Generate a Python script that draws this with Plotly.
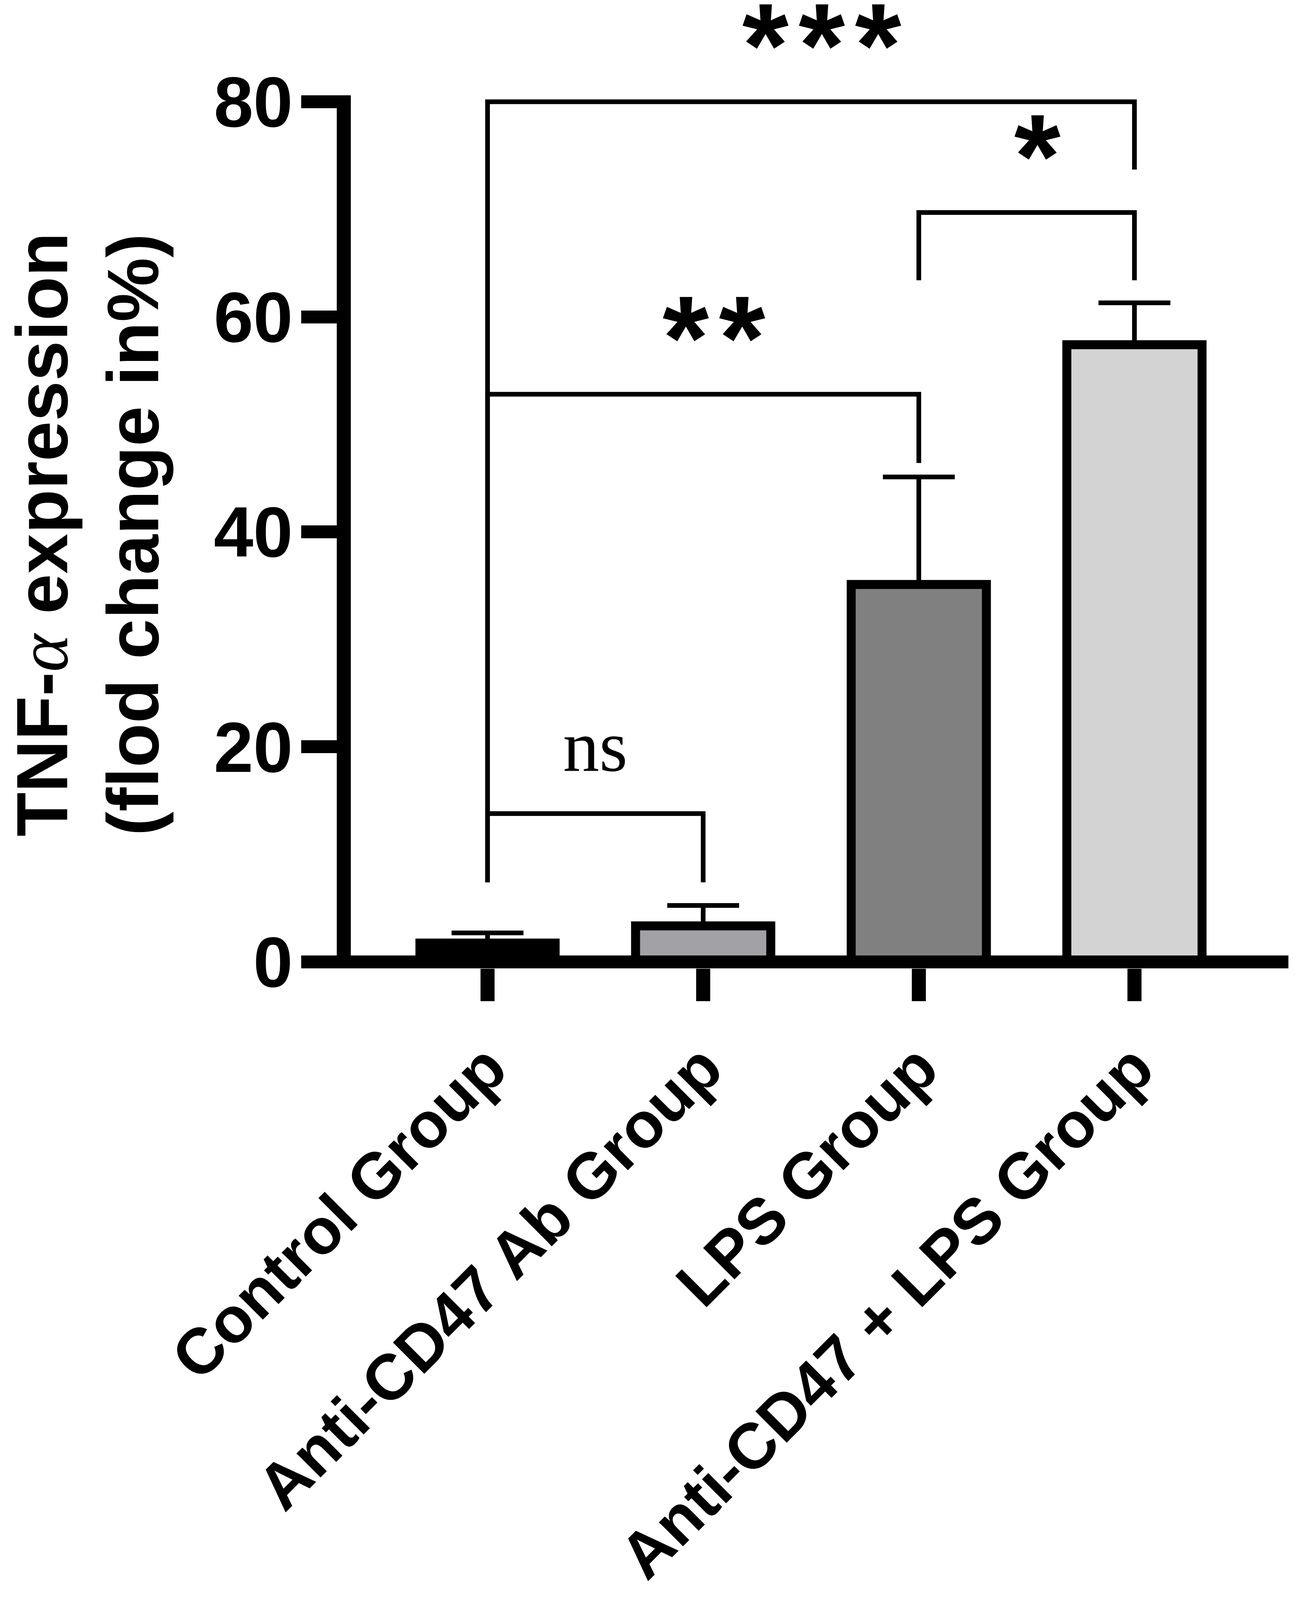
import plotly.graph_objects as go

# bar data
groups = ["Control Group", "Anti-CD47 Ab Group", "LPS Group", "Anti-CD47 + LPS Group"]
means = [1.75, 3.35, 35.1, 57.4]
sd = [0.95, 1.9, 10.0, 3.9]
bar_colors = ["#000000", "#a1a1a6", "#808080", "#d3d3d3"]

# significance brackets: (left group, right group), bar height, leg ends, label
pairs = [(0, 1), (0, 2), (0, 3), (2, 3)]
bracket_h = [13.8, 52.8, 80.0, 69.7]
leg_left = [7.4, 7.4, 7.4, 63.4]
leg_right = [7.4, 46.4, 73.7, 63.4]
sig_labels = ["ns", "**", "***", "*"]

yticks = [0, 20, 40, 60, 80]

FONT = "Liberation Sans, Arial, sans-serif"
SERIF = "Liberation Serif, Times New Roman, serif"

# the visible page is shorter than 4424 px, so the vertical layout is squeezed a bit
W, H = 3320, 4080

fig = go.Figure()

fig.add_trace(go.Bar(
    x=groups, y=means, width=0.627,
    marker=dict(color=bar_colors, line=dict(color="black", width=23)),
    error_y=dict(type="data", symmetric=False, array=sd, arrayminus=[0] * len(sd),
                 color="black", thickness=12, width=92),
    showlegend=False, hoverinfo="skip"))

for (a, b), h, yl, yr in zip(pairs, bracket_h, leg_left, leg_right):
    fig.add_trace(go.Scatter(
        x=[groups[a], groups[a], groups[b], groups[b]], y=[yl, h, h, yr],
        mode="lines", line=dict(color="black", width=12),
        showlegend=False, hoverinfo="skip"))

for (a, b), h, lab in zip(pairs, bracket_h, sig_labels):
    if lab == "ns":
        fnt = dict(family=SERIF, size=186, color="black")
        ysh, xsh = 173, 0
    else:
        fnt = dict(family=FONT, size=305, color="black", weight="bold")
        ysh, xsh = 145, 28
        lab = "\u200a".join(lab)
    fig.add_annotation(x=(a + b) / 2, y=h, xref="x", yref="y", text=lab,
                       showarrow=False, font=fnt, xanchor="center",
                       yanchor="middle", yshift=ysh, xshift=xsh)

# y axis title, two lines
fig.add_annotation(x=-0.329, y=0.497, xref="paper", yref="paper",
                   text="TNF-<span style=\"font-family:'Liberation Serif';font-weight:normal\"><i>α</i></span> expression",
                   textangle=-90, showarrow=False, xanchor="center", yanchor="middle",
                   font=dict(family=FONT, size=185, color="black", weight="bold"))
fig.add_annotation(x=-0.232, y=0.497, xref="paper", yref="paper",
                   text="(flod change in%)",
                   textangle=-90, showarrow=False, xanchor="center", yanchor="middle",
                   font=dict(family=FONT, size=185, color="black", weight="bold"))

# horizontal axis line at y = 0
fig.add_shape(type="line", xref="paper", yref="y", x0=0, x1=1, y0=0, y1=0,
              line=dict(color="black", width=33), layer="above")

fig.update_xaxes(
    type="category", range=[-0.634, 3.714], showline=False, showgrid=False,
    zeroline=False, ticks="outside", ticklen=83, tickwidth=36, tickcolor="black",
    tickangle=-45, ticklabelstandoff=8,
    tickfont=dict(family=FONT, size=165, color="black", weight="bold"))
fig.update_yaxes(
    range=[-0.6, 80.6], tickvals=yticks, showline=True, linewidth=36, linecolor="black",
    showgrid=False, zeroline=False, ticks="outside", ticklen=91, tickwidth=33,
    tickcolor="black", layer="above traces", ticklabelstandoff=-15,
    tickfont=dict(family=FONT, size=182, color="black", weight="bold"))

fig.update_layout(
    width=W, height=H,
    margin=dict(l=890, r=30, t=236, b=1598, pad=0),
    plot_bgcolor="white", paper_bgcolor="white",
    bargap=0.3)

fig.write_html("out.html")
